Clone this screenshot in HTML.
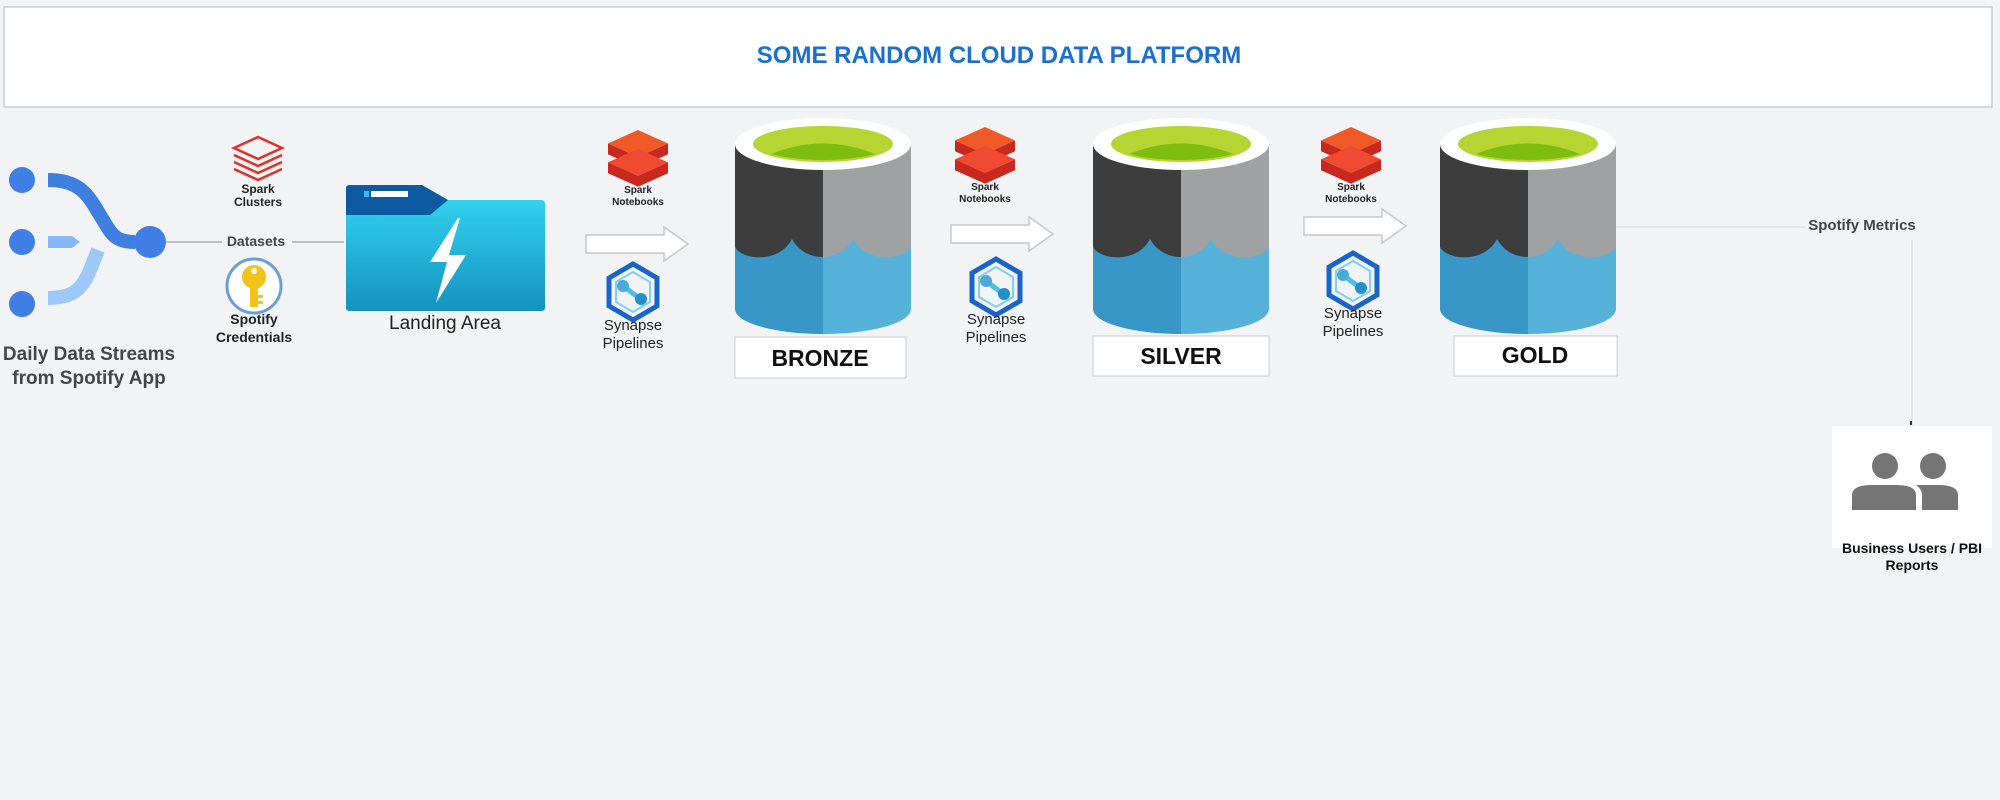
<!DOCTYPE html>
<html><head><meta charset="utf-8"><style>
html,body{margin:0;padding:0;background:#f1f3f5;}
svg{display:block;font-family:"Liberation Sans",Arial,sans-serif;}
</style></head><body>
<svg width="2000" height="800" viewBox="0 0 2000 800" xmlns="http://www.w3.org/2000/svg">
<defs>
<clipPath id="cl"><rect x="0" y="0" width="88" height="260"/></clipPath>
<clipPath id="cr"><rect x="88" y="0" width="88" height="260"/></clipPath>
<g id="cyl">
  <rect x="0" y="25" width="88" height="165" fill="#3d3d3e"/>
  <rect x="88" y="25" width="88" height="165" fill="#a0a1a3"/>
  <path d="M0,128 C8,142 45,144 57,120 C70,144 105,144 118,120 C130,144 168,142 176,128 L176,190 A88,25 0 0 1 0,190 Z" fill="#3897c7" clip-path="url(#cl)"/>
  <path d="M0,128 C8,142 45,144 57,120 C70,144 105,144 118,120 C130,144 168,142 176,128 L176,190 A88,25 0 0 1 0,190 Z" fill="#57b2da" clip-path="url(#cr)"/>
  <ellipse cx="88" cy="25" rx="88" ry="26" fill="#fff"/>
  <ellipse cx="88" cy="25" rx="70" ry="18" fill="#b6d432"/>
  <path d="M36,35 Q88,14 140,35 A70,18 0 0 1 36,35 Z" fill="#7cbd10"/>
</g>
<g id="spark">
  <path d="M0,10 L20,0 L40,10 L20,20 Z" fill="#f05a28"/>
  <path d="M0,10 L20,20 L40,10 L40,18 L20,28 L0,18 Z" fill="#c8281e"/>
  <path d="M0,24 L20,14 L40,24 L20,34 Z" fill="#f04a30"/>
  <path d="M0,24 L20,34 L40,24 L40,32 L20,42 L0,32 Z" fill="#c8281e"/>
</g>
<g id="syn">
  <polygon points="0,-28 24,-14 24,14 0,28 -24,14 -24,-14" fill="none" stroke="#1a64c8" stroke-width="5"/>
  <polygon points="0,-20 17,-10 17,10 0,20 -17,10 -17,-10" fill="none" stroke="#7fd0f0" stroke-width="2"/>
  <path d="M-10,-6 L6,6" stroke="#50c0e8" stroke-width="5"/>
  <circle cx="-10" cy="-6" r="6" fill="#4aaad8"/>
  <circle cx="8" cy="7" r="6" fill="#2590c8"/>
</g>
<g id="arr">
  <path d="M0,8 L78,8 L78,0 L102,17 L78,34 L78,26 L0,26 Z" fill="#fff" stroke="#c8c8c8" stroke-width="1.5"/>
</g>
</defs>

<!-- title -->
<rect x="4" y="7" width="1988" height="100" fill="#fff" stroke="#c9ccd0" stroke-width="1.5"/>
<text x="999" y="63" text-anchor="middle" font-size="24" font-weight="bold" fill="#1a6fcf">SOME RANDOM CLOUD DATA PLATFORM</text>

<!-- streams -->
<path d="M48,180 C80,180 88,195 100,215 C112,235 115,242 135,242" fill="none" stroke="#3f7fe0" stroke-width="14"/>
<path d="M48,236 L72,236 L80,242 L72,248 L48,248 Z" fill="#86b8f7"/>
<path d="M48,298 C72,298 82,290 90,270 L98,250" fill="none" stroke="#9ec8fa" stroke-width="14"/>
<circle cx="22" cy="180" r="13" fill="#3f7fe6"/>
<circle cx="22" cy="242" r="13" fill="#3f7fe6"/>
<circle cx="22" cy="304" r="13" fill="#3f7fe6"/>
<circle cx="150" cy="242" r="16" fill="#3f7fe6"/>
<text x="89" y="360" text-anchor="middle" font-size="19" font-weight="bold" fill="#44474a">Daily Data Streams</text>
<text x="89" y="384" text-anchor="middle" font-size="19" font-weight="bold" fill="#44474a">from Spotify App</text>

<line x1="166" y1="242" x2="344" y2="242" stroke="#8a8a8a" stroke-width="1"/>
<rect x="222" y="232" width="70" height="18" fill="#f1f3f5"/>
<text x="256" y="246" text-anchor="middle" font-size="14" font-weight="bold" fill="#444">Datasets</text>

<!-- spark clusters -->
<g fill="none" stroke="#e0302a" stroke-width="2.5">
<path d="M234,148 L258,137 L282,148 L258,159 Z"/>
<path d="M234,155 L258,166 L282,155"/>
<path d="M234,162 L258,173 L282,162"/>
<path d="M234,169 L258,180 L282,169"/>
</g>
<text x="258" y="193" text-anchor="middle" font-size="12" font-weight="bold" fill="#222">Spark</text>
<text x="258" y="206" text-anchor="middle" font-size="12" font-weight="bold" fill="#222">Clusters</text>

<!-- key -->
<circle cx="254" cy="286" r="27" fill="#fff" stroke="#6aa0d8" stroke-width="3"/>
<circle cx="254" cy="277" r="12" fill="#f2c41a"/>
<circle cx="254" cy="271" r="3" fill="#fff"/>
<rect x="250" y="285" width="8" height="22" fill="#f2c41a"/>
<rect x="258" y="295" width="5" height="3" fill="#f2c41a"/>
<rect x="258" y="301" width="5" height="3" fill="#f2c41a"/>
<text x="254" y="324" text-anchor="middle" font-size="14" font-weight="bold" fill="#222">Spotify</text>
<text x="254" y="342" text-anchor="middle" font-size="14" font-weight="bold" fill="#222">Credentials</text>

<!-- folder -->
<defs><linearGradient id="fg" x1="0" y1="0" x2="0" y2="1"><stop offset="0" stop-color="#32d0ef"/><stop offset="1" stop-color="#1592c0"/></linearGradient></defs>
<path d="M346,188 Q346,185 350,185 L422,185 L448,200 L448,215 L346,215 Z" fill="#0d5aa0"/>
<rect x="364" y="191" width="5" height="6" fill="#37b7f0"/>
<rect x="371" y="191" width="37" height="6" fill="#fff"/>
<path d="M346,215 L430,215 L448,200 L541,200 Q545,200 545,204 L545,308 Q545,311 541,311 L350,311 Q346,311 346,308 Z" fill="url(#fg)"/>
<path d="M458,218 L430,262 L447,262 L436,303 L466,255 L449,255 L460,218 Z" fill="#fff"/>
<text x="445" y="329" text-anchor="middle" font-size="19" fill="#222">Landing Area</text>

<!-- stage 1 -->
<use href="#arr" x="586" y="227"/>
<use href="#spark" transform="translate(608,130) scale(1.5,1.35)"/>
<text x="638" y="193" text-anchor="middle" font-size="10" font-weight="bold" fill="#222">Spark</text>
<text x="638" y="205" text-anchor="middle" font-size="10" font-weight="bold" fill="#222">Notebooks</text>
<use href="#syn" x="633" y="292"/>
<text x="633" y="330" text-anchor="middle" font-size="15" fill="#222">Synapse</text>
<text x="633" y="348" text-anchor="middle" font-size="15" fill="#222">Pipelines</text>

<use href="#cyl" x="735" y="119"/>
<rect x="735" y="337" width="171" height="41" fill="#fff" stroke="#c9ccd0"/>
<text x="820" y="366" text-anchor="middle" font-size="23" font-weight="bold" fill="#111">BRONZE</text>

<!-- stage 2 -->
<use href="#arr" x="951" y="217"/>
<use href="#spark" transform="translate(955,127) scale(1.5,1.35)"/>
<text x="985" y="190" text-anchor="middle" font-size="10" font-weight="bold" fill="#222">Spark</text>
<text x="985" y="202" text-anchor="middle" font-size="10" font-weight="bold" fill="#222">Notebooks</text>
<use href="#syn" x="996" y="287"/>
<text x="996" y="324" text-anchor="middle" font-size="15" fill="#222">Synapse</text>
<text x="996" y="342" text-anchor="middle" font-size="15" fill="#222">Pipelines</text>

<use href="#cyl" x="1093" y="119"/>
<rect x="1093" y="336" width="176" height="40" fill="#fff" stroke="#c9ccd0"/>
<text x="1181" y="364" text-anchor="middle" font-size="23" font-weight="bold" fill="#111">SILVER</text>

<!-- stage 3 -->
<use href="#arr" x="1304" y="209"/>
<use href="#spark" transform="translate(1321,127) scale(1.5,1.35)"/>
<text x="1351" y="190" text-anchor="middle" font-size="10" font-weight="bold" fill="#222">Spark</text>
<text x="1351" y="202" text-anchor="middle" font-size="10" font-weight="bold" fill="#222">Notebooks</text>
<use href="#syn" x="1353" y="281"/>
<text x="1353" y="318" text-anchor="middle" font-size="15" fill="#222">Synapse</text>
<text x="1353" y="336" text-anchor="middle" font-size="15" fill="#222">Pipelines</text>

<use href="#cyl" x="1440" y="119"/>
<rect x="1454" y="336" width="163" height="40" fill="#fff" stroke="#c9ccd0"/>
<text x="1535" y="363" text-anchor="middle" font-size="23" font-weight="bold" fill="#111">GOLD</text>

<!-- metrics -->
<line x1="1616" y1="227" x2="1805" y2="227" stroke="#d4d6d8" stroke-width="1"/>
<text x="1862" y="230" text-anchor="middle" font-size="15" font-weight="bold" fill="#444">Spotify Metrics</text>
<line x1="1912" y1="240" x2="1912" y2="425" stroke="#d4d6d8" stroke-width="1"/>
<rect x="1910" y="421" width="2" height="4" fill="#333"/>

<rect x="1832" y="426" width="160" height="122" fill="#fff"/>
<circle cx="1885" cy="466" r="13" fill="#757575"/>
<circle cx="1933" cy="466" r="13" fill="#757575"/>
<path d="M1852,510 L1852,495 Q1852,485 1872,485 L1896,485 Q1916,485 1916,495 L1916,510 Z" fill="#757575"/>
<path d="M1922,510 L1922,495 Q1922,489 1916,485 L1938,485 Q1958,485 1958,495 L1958,510 Z" fill="#757575"/>
<text x="1912" y="553" text-anchor="middle" font-size="14" font-weight="bold" fill="#111">Business Users / PBI</text>
<text x="1912" y="570" text-anchor="middle" font-size="14" font-weight="bold" fill="#111">Reports</text>
</svg>
</body></html>
